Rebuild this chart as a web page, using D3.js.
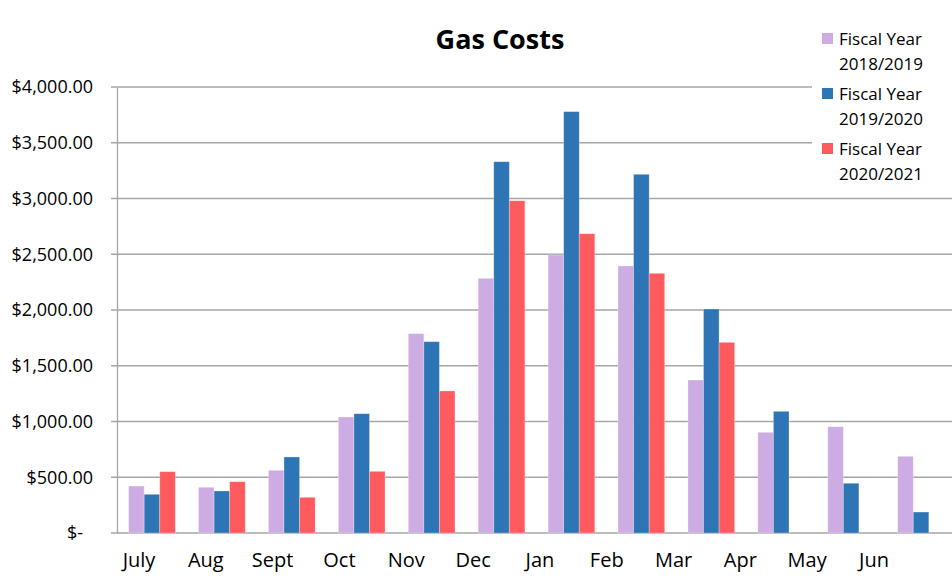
<!DOCTYPE html>
<html>
<head>
<meta charset="utf-8">
<script src="https://cdn.jsdelivr.net/npm/d3@7"></script>
<style>
  html, body { margin: 0; padding: 0; background: #fff; }
  svg { display: block; }
  text { font-family: "Open Sans", "Noto Sans", sans-serif; fill: #000; }
</style>
</head>
<body>
<svg id="chart" width="952" height="583"></svg>
<script>
// ---- data ----
const months = ["July","Aug","Sept","Oct","Nov","Dec","Jan","Feb","Mar","Apr","May","Jun"];
const seriesNames = ["Fiscal Year 2018/2019","Fiscal Year 2019/2020","Fiscal Year 2020/2021"];
const fy2018_2019 = [421, 410, 562, 1040, 1788, 2284, 2493, 2395, 1372, 903, 953, 688];
const fy2019_2020 = [347, 377, 682, 1070, 1716, 3330, 3779, 3217, 2009, 1091, 446, 188];
const fy2020_2021 = [550, 460, 320, 553, 1274, 2980, 2684, 2329, 1710, null, null, null];
const yTicks = [0, 500, 1000, 1500, 2000, 2500, 3000, 3500, 4000];
const colors = ["#CDACE3", "#2E75B6", "#FF5B5E"];
const title = "Gas Costs";

const series = [fy2018_2019, fy2019_2020, fy2020_2021];

// ---- layout ----
const svg = d3.select("#chart");
const plotLeft = 117, plotRight = 956, plotTop = 87, plotBottom = 533;

const x0 = d3.scaleBand().domain(months).range([plotLeft, plotRight])
  .paddingInner(0.332).paddingOuter(0.166);
const x1 = d3.scaleBand().domain(d3.range(series.length)).range([0, x0.bandwidth()]);
const y = d3.scaleLinear().domain([0, 4000]).range([plotBottom, plotTop]);
const xLabel = d3.scalePoint().domain(months).range([139, 874]);

// gridlines
svg.append("g").selectAll("line").data(yTicks).join("line")
  .attr("x1", plotLeft - 6)
  .attr("x2", d => d >= 3500 ? 812 : 952)
  .attr("y1", d => y(d)).attr("y2", d => y(d))
  .attr("stroke", "#A6A6A6").attr("stroke-width", 1.3);

// y axis
const fmt = d3.format("$,.2f");
const yAxis = d3.axisLeft(y).tickValues(yTicks).tickSize(6).tickSizeOuter(0).tickPadding(18)
  .tickFormat(d => d === 0 ? "$-" : fmt(d));
const gy = svg.append("g").attr("transform", `translate(${plotLeft},0)`).call(yAxis);
gy.select(".domain").attr("stroke", "#A6A6A6").attr("stroke-width", 1.3);
gy.selectAll(".tick line").attr("stroke", "none");
gy.selectAll(".tick text")
  .attr("font-size", 18)
  .attr("font-family", "'Open Sans', sans-serif")
  .attr("fill", "#000")
  .attr("dx", d => d === 0 ? -10 : 0);

// bars
const groups = svg.append("g").selectAll("g").data(months).join("g")
  .attr("transform", m => `translate(${x0(m)},0)`);
groups.selectAll("rect")
  .data((m, i) => series.map((s, k) => ({k, v: s[i]})).filter(d => d.v != null))
  .join("rect")
  .attr("x", d => x1(d.k))
  .attr("width", x1.bandwidth())
  .attr("y", d => y(d.v))
  .attr("height", d => y(0) - y(d.v))
  .attr("fill", d => colors[d.k])
  .attr("stroke", "rgba(255,255,255,0.35)")
  .attr("stroke-width", 0.8);

// month labels
svg.append("g").selectAll("text").data(months).join("text")
  .attr("x", m => xLabel(m))
  .attr("y", 567)
  .attr("text-anchor", "middle")
  .attr("font-size", 20)
  .text(m => m);

// title
svg.append("text")
  .attr("x", 500).attr("y", 49)
  .attr("text-anchor", "middle")
  .attr("font-size", 27).attr("font-weight", "bold")
  .text(title);

// legend
const lg = svg.append("g").selectAll("g").data(seriesNames).join("g")
  .attr("transform", (d, i) => `translate(822,${33 + i * 55})`);
lg.append("rect").attr("width", 11).attr("height", 11).attr("fill", (d, i) => colors[i]);
lg.append("text").attr("x", 17).attr("y", 12).attr("font-size", 17)
  .text(d => d.split(" ").slice(0, 2).join(" "));
lg.append("text").attr("x", 17).attr("y", 37).attr("font-size", 17)
  .text(d => d.split(" ").slice(2).join(" "));
</script>
</body>
</html>
